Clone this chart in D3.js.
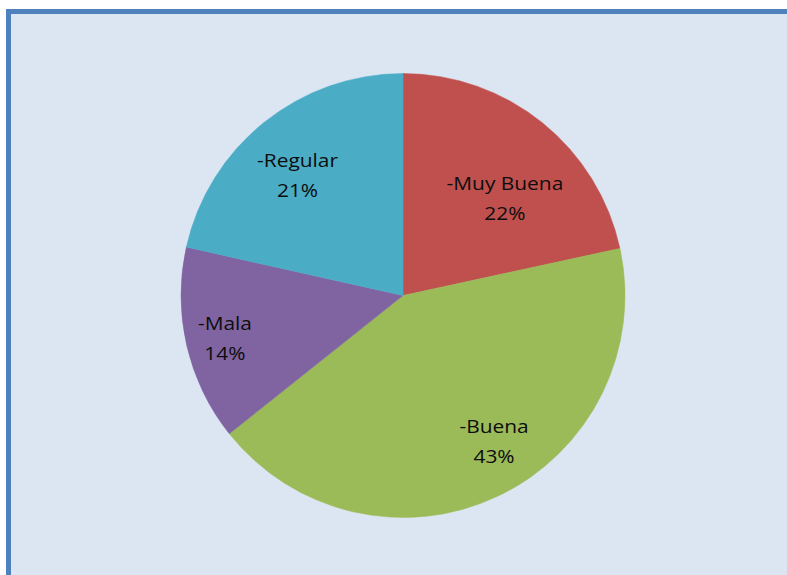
<!DOCTYPE html>
<html>
<head>
<meta charset="utf-8">
<script src="https://cdn.jsdelivr.net/npm/d3@7"></script>
<style>
  html, body { margin: 0; padding: 0; background: #ffffff; }
  svg { display: block; }
</style>
</head>
<body>
<script>
// ---- data ----
const categories = ["-Muy Buena", "-Buena", "-Mala", "-Regular"];
const values = [21.6, 42.7, 14.2, 21.5];
const percentLabels = ["22%", "43%", "14%", "21%"];
const colors = ["#c0504d", "#9bbb59", "#8064a2", "#4bacc6"];

// ---- layout ----
const W = 787, H = 575;
const cx = 403, cy = 295.5, R = 222;
// label centre offsets, as fractions of the radius (x, y)
const labelOffsets = [[0.459, -0.408], [0.410, 0.687], [-0.802, 0.221], [-0.475, -0.513]];

const svg = d3.select("body").append("svg")
  .attr("width", W).attr("height", H);

// chart area background + frame
svg.append("rect")
  .attr("x", 8.5).attr("y", 11.5)
  .attr("width", W + 20).attr("height", H + 20)
  .attr("fill", "#dce6f2")
  .attr("stroke", "#4f81bd")
  .attr("stroke-width", 5);

const pie = d3.pie().sort(null).value(d => d)
  .startAngle(0).endAngle(2 * Math.PI);
const arcs = pie(values);
const arc = d3.arc().innerRadius(0).outerRadius(R);

const g = svg.append("g").attr("transform", `translate(${cx},${cy})`);

g.selectAll("path.slice")
  .data(arcs)
  .join("path")
  .attr("class", "slice")
  .attr("d", arc)
  .attr("fill", (d, i) => colors[i])
  .attr("stroke", (d, i) => colors[i])
  .attr("stroke-width", 0.5);

const lab = g.selectAll("g.label")
  .data(arcs)
  .join("g")
  .attr("class", "label")
  .attr("transform", (d, i) => `translate(${labelOffsets[i][0] * R},${labelOffsets[i][1] * R}) scale(1.1,1)`);

lab.append("text")
  .attr("text-anchor", "middle")
  .attr("y", -15)
  .attr("font-family", "'Open Sans', sans-serif")
  .attr("font-size", 19)
  .attr("fill", "#0d0d0d")
  .text((d, i) => categories[i]);

lab.append("text")
  .attr("text-anchor", "middle")
  .attr("y", 15)
  .attr("font-family", "'Open Sans', sans-serif")
  .attr("font-size", 19)
  .attr("fill", "#0d0d0d")
  .text((d, i) => percentLabels[i]);
</script>
</body>
</html>
